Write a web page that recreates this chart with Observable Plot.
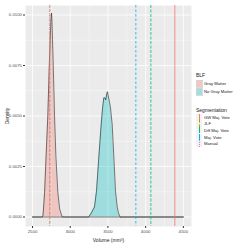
<!DOCTYPE html>
<html><head><meta charset="utf-8">
<script src="https://cdn.jsdelivr.net/npm/d3@7"></script>
<script src="https://cdn.jsdelivr.net/npm/@observablehq/plot@0.6"></script>
<style>
body{margin:0;background:#fff;font-family:"Liberation Sans",Arial,sans-serif;}
#wrap{position:relative;width:245px;height:245px;overflow:hidden;}
.lg{position:absolute;font-size:4.2px;color:#1a1a1a;white-space:nowrap;}
.lt{font-size:5px;}
</style></head>
<body><div id="wrap"></div>
<script>
const grayX = [2500,2630,2640,2660,2680,2703,2720,2734,2745,2752,2758,2765,2780,2792,2810,2836,2860,2885,2895,4500];
const grayY = [0,0,0.0001,0.0012,0.003,0.005,0.0072,0.0088,0.0098,0.0101,0.0097,0.0088,0.0068,0.005,0.003,0.0012,0.0004,0.0001,0,0];
const noGrayX = [2500,3245,3280,3322,3349,3380,3411,3429,3445,3458,3470,3485,3493,3505,3520,3534,3556,3578,3600,3623,3640,3660,4500];
const noGrayY = [0,0,0.0002,0.0005,0.0013,0.003,0.0046,0.0054,0.0059,0.0059,0.0058,0.0061,0.0062,0.006,0.0057,0.0054,0.0046,0.003,0.0013,0.0005,0.0002,0,0];
const blfLabels = ["Gray Matter","No Gray Matter"];
const blfColors = ["#F8766D","#00BFC4"];
const segLabels = ["GW Maj. Vote","JLF","Diff Maj. Vote","Maj. Vote","Manual"];
const segValues = [4387,2730,4069,3870,2725];
const segColors = ["#F8766D","#A3A500","#00BF7D","#00B0F6","#E76BF3"];
const segDash = [null,"2.5,2","3,1.5","2.5,2","0.8,1.2"];
const xTicks = [2500,3000,3500,4000,4500];
const yTicks = [0,0.0025,0.005,0.0075,0.01];

const dens = [
  ...grayX.map((x,i)=>({x, y:grayY[i], g:blfLabels[0]})),
  ...noGrayX.map((x,i)=>({x, y:noGrayY[i], g:blfLabels[1]}))
];
const segs = segLabels.map((s,i)=>({s, v:segValues[i], c:segColors[i], d:segDash[i]}));

const plot = Plot.plot({
  width:245, height:245,
  marginLeft:25, marginRight:54, marginTop:5, marginBottom:19,
  style:{fontFamily:"Liberation Sans, Arial, sans-serif", fontSize:"4.3px", color:"#4D4D4D", background:"transparent"},
  x:{domain:[2407,4608]},
  y:{domain:[-0.00047,0.01047]},
  color:{domain:blfLabels, range:blfColors},
  marks:[
    Plot.frame({fill:"#EBEBEB", stroke:null}),
    Plot.gridX([2750,3250,3750,4250],{stroke:"#fff", strokeOpacity:1, strokeWidth:0.4}),
    Plot.gridY([0.00125,0.00375,0.00625,0.00875],{stroke:"#fff", strokeOpacity:1, strokeWidth:0.4}),
    Plot.gridX(xTicks,{stroke:"#fff", strokeOpacity:1, strokeWidth:0.8}),
    Plot.gridY(yTicks,{stroke:"#fff", strokeOpacity:1, strokeWidth:0.8}),
    Plot.areaY(dens,{x:"x", y:"y", fill:"g", fillOpacity:0.32, z:"g"}),
    Plot.line(dens,{x:"x", y:"y", z:"g", stroke:"#222", strokeWidth:0.6}),
    ...segs.map(d=>Plot.ruleX([d.v],{stroke:d.c, strokeWidth:0.8, strokeDasharray:d.d})),
    Plot.axisX(xTicks,{tickSize:2, tickPadding:1.5, stroke:"#333", fill:"#4D4D4D", tickFormat:d=>String(d), label:"Volume (mm³)", labelAnchor:"center", labelArrow:"none", labelOffset:15}),
    Plot.axisY(yTicks,{tickSize:2, tickPadding:1.5, stroke:"#333", fill:"#4D4D4D", tickFormat:d3.format(".4f"), label:"Density", labelAnchor:"center", labelArrow:"none", labelOffset:20})
  ]
});
const wrap = document.getElementById("wrap");
wrap.appendChild(plot);
plot.querySelectorAll("[aria-label='x-axis label'] text, [aria-label='y-axis label'] text").forEach(t=>{t.setAttribute("fill","#1a1a1a");t.style.fontSize="5px";});

function add(html, x, y, cls){const d=document.createElement("div");d.className="lg "+(cls||"");d.style.left=x+"px";d.style.top=y+"px";d.innerHTML=html;wrap.appendChild(d);return d;}
add("BLF",196,72,"lt");
blfLabels.forEach((l,i)=>{
  const y=80+i*8;
  const b=document.createElement("div");
  b.style.cssText=`position:absolute;left:196px;top:${y}px;width:6px;height:6.5px;background:#F2F2F2;`;
  const f=document.createElement("div");
  f.style.cssText=`position:absolute;left:0;top:0;width:5.4px;height:5.9px;border:0.3px solid #999;background:${blfColors[i]};opacity:0.35;`;
  b.appendChild(f);wrap.appendChild(b);
  add(l,204,y+1);
});
add("Segmentation",196,107,"lt");
segLabels.forEach((l,i)=>{
  const y=113.5+i*6.7;
  const b=document.createElement("div");
  b.style.cssText=`position:absolute;left:196px;top:${y}px;width:6px;height:6.5px;background:#F2F2F2;`;
  const ln=document.createElement("div");
  const bs = segDash[i]===null?"solid":(i===4?"dotted":"dashed");
  ln.style.cssText=`position:absolute;left:2.6px;top:0;width:0;height:6.5px;border-left:0.8px ${bs} ${segColors[i]};`;
  b.appendChild(ln);wrap.appendChild(b);
  add(l,204,y+1);
});
</script></body></html>
